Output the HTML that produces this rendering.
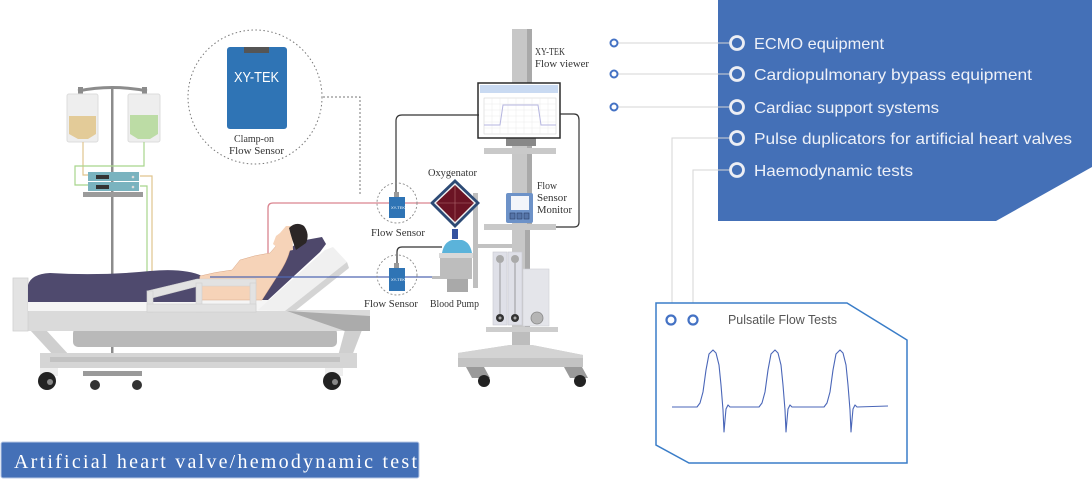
<!DOCTYPE html>
<html><head><meta charset="utf-8"><style>
html,body{margin:0;padding:0;background:#fff;}
svg{display:block;}
.m{font-family:"Liberation Serif","Noto Serif CJK SC",serif;fill:#333;font-size:10.5px;}
.p{font-family:"Liberation Sans","Noto Sans CJK SC",sans-serif;}
</style></head><body>
<svg width="1092" height="479" viewBox="0 0 1092 479" xmlns="http://www.w3.org/2000/svg">
<rect width="1092" height="479" fill="#fff"/>

<!-- Right blue panel -->
<polygon points="718,0 1092,0 1092,167 996,221 718,221" fill="#4470b7"/>
<g stroke="#d5d5d5" stroke-width="1" fill="none">
  <line x1="618" y1="43" x2="730" y2="43"/>
  <line x1="618" y1="74" x2="730" y2="74"/>
  <line x1="618" y1="107" x2="730" y2="107"/>
  <path d="M730,138 H672 V315"/>
  <path d="M730,170 H693 V315"/>
</g>
<g fill="#fff" stroke="#4472c4" stroke-width="2">
  <circle cx="614" cy="43" r="3.5"/>
  <circle cx="614" cy="74" r="3.5"/>
  <circle cx="614" cy="107" r="3.5"/>
</g>
<g fill="#4470b7" stroke="#eceef4" stroke-width="2.8">
  <circle cx="737" cy="43" r="6.5"/>
  <circle cx="737" cy="74" r="6.5"/>
  <circle cx="737" cy="107" r="6.5"/>
  <circle cx="737" cy="138" r="6.5"/>
  <circle cx="737" cy="170" r="6.5"/>
</g>
<g class="p" fill="#eef1f8" font-size="16">
  <text x="754" y="49" textLength="130" lengthAdjust="spacingAndGlyphs">ECMO equipment</text>
  <text x="754" y="80" textLength="278" lengthAdjust="spacingAndGlyphs">Cardiopulmonary bypass equipment</text>
  <text x="754" y="113" textLength="185" lengthAdjust="spacingAndGlyphs">Cardiac support systems</text>
  <text x="754" y="144" textLength="318" lengthAdjust="spacingAndGlyphs">Pulse duplicators for artificial heart valves</text>
  <text x="754" y="176" textLength="159" lengthAdjust="spacingAndGlyphs">Haemodynamic tests</text>
</g>

<!-- Pulsatile box -->
<polygon points="656,303 847,303 907,340 907,463 689,463 656,445" fill="#fff" stroke="#3a7dc8" stroke-width="1.5"/>
<g fill="#fff" stroke="#4472c4" stroke-width="2.2">
  <circle cx="671" cy="320" r="4.5"/>
  <circle cx="693" cy="320" r="4.5"/>
</g>
<text class="p" x="728" y="324" font-size="12.5" fill="#555" textLength="109" lengthAdjust="spacingAndGlyphs">Pulsatile Flow Tests</text>
<path fill="none" stroke="#4a66b8" stroke-width="1.1" stroke-linejoin="round" d="M672,407 L697,407 L700,403 L703,392 L706,370 L709,354 L713,350 L716,353 L719,365 L721,385 L723,410 L724,432 L725,420 L726,409 L728,405 L730,407 L759,407 L762,403 L765,392 L768,370 L771,354 L775,350 L778,353 L781,365 L783,385 L785,410 L786,432 L787,420 L788,409 L790,405 L792,407 L824,407 L827,403 L830,392 L833,370 L836,354 L840,350 L843,353 L846,365 L848,385 L850,410 L851,432 L852,420 L853,409 L855,405 L857,407 L888,406"/>

<!-- IV stand -->
<rect x="111" y="86" width="2.5" height="270" fill="#8c8c8c"/>
<path d="M78,91 Q112,84 147,91" stroke="#8c8c8c" stroke-width="3" fill="none"/>
<rect x="78" y="87" width="5" height="8" fill="#8c8c8c"/>
<rect x="142" y="87" width="5" height="8" fill="#8c8c8c"/>
<rect x="67" y="94" width="31" height="48" rx="2" fill="#eeeeee" stroke="#dcdcdc"/>
<path d="M69,116 H96 V134 L88,139 H78 L69,134 Z" fill="#e3cb98"/>
<rect x="128" y="94" width="32" height="48" rx="2" fill="#eeeeee" stroke="#dcdcdc"/>
<path d="M130,115 H158 V134 L150,139 H138 L130,134 Z" fill="#bcdca5"/>
<g fill="none" stroke-width="1.2">
  <path d="M83,142 V175 H88" stroke="#e0c48e"/>
  <path d="M140,176 H152 V272" stroke="#e0c48e"/>
  <path d="M144,142 V166 H75 V185 H88" stroke="#a8d58c"/>
  <path d="M140,186 H147 V272" stroke="#a8d58c"/>
</g>
<rect x="88" y="172" width="51" height="9" fill="#7ab3bf"/>
<rect x="88" y="182" width="51" height="9" fill="#7ab3bf"/>
<rect x="96" y="175" width="13" height="4" fill="#333"/>
<rect x="96" y="185" width="13" height="4" fill="#333"/>
<circle cx="133" cy="177" r="1.3" fill="#ddd"/>
<circle cx="133" cy="187" r="1.3" fill="#ddd"/>
<rect x="83" y="192" width="60" height="5" fill="#9b9b9b"/>

<!-- Clamp-on sensor callout -->
<circle cx="255" cy="97" r="67" fill="none" stroke="#777" stroke-width="1" stroke-dasharray="1.5,2.5"/>
<path d="M323,97 H360 V194" fill="none" stroke="#777" stroke-width="1" stroke-dasharray="2,2"/>
<rect x="227" y="47" width="60" height="82" rx="3" fill="#2f74b5"/>
<rect x="244" y="47" width="25" height="6" fill="#555"/>
<text class="p" x="234" y="82" font-size="15" fill="#fff" textLength="45" lengthAdjust="spacingAndGlyphs">XY-TEK</text>
<text class="m" x="234" y="142" textLength="40" lengthAdjust="spacingAndGlyphs">Clamp-on</text>
<text class="m" x="229" y="154" textLength="55" lengthAdjust="spacingAndGlyphs">Flow Sensor</text>

<!-- Bed -->
<rect x="73" y="328" width="264" height="19" rx="5" fill="#b9b9b9"/>
<polygon points="30,330 46,330 70,356 54,356" fill="#cfcfcf"/>
<polygon points="345,330 362,330 352,356 338,356" fill="#cfcfcf"/>
<rect x="40" y="353" width="317" height="15" fill="#d5d5d5"/>
<rect x="50" y="357" width="290" height="5" fill="#c2c2c2"/>
<rect x="40" y="368" width="18" height="8" fill="#eee"/>
<circle cx="47" cy="381" r="9" fill="#222"/><circle cx="50" cy="382" r="3" fill="#888"/>
<rect x="325" y="368" width="18" height="8" fill="#eee"/>
<circle cx="332" cy="381" r="9" fill="#222"/><circle cx="335" cy="382" r="3" fill="#888"/>
<rect x="83" y="371" width="59" height="5" fill="#9a9a9a"/>
<circle cx="95" cy="385" r="5" fill="#333"/><circle cx="137" cy="385" r="5" fill="#333"/>
<rect x="13" y="310" width="357" height="21" fill="#dadada"/>
<polygon points="287,311 370,316 370,331 345,331" fill="#ababab"/>
<rect x="13" y="278" width="15" height="53" fill="#e3e3e3" stroke="#d0d0d0" stroke-width="0.8"/>
<rect x="28" y="300" width="262" height="11" fill="#f5f5f5"/>
<polygon points="258,310 325,250 333,247 347,262 285,311" fill="#f0f0f0"/>
<polygon points="285,311 347,262 349,268 295,311" fill="#d4d4d4"/>

<!-- pink line (behind patient) -->
<path d="M268,262 V208 Q268,203 273,203 H430" fill="none" stroke="#d9848f" stroke-width="1.3"/>

<!-- Patient -->
<polygon points="253,300 288,250 300,241 322,237 326,244 320,252 268,300" fill="#4e486b"/>
<path d="M28,302 L28,285 Q31,274 50,273 Q100,276 150,271 Q185,268 202,276 L202,302 Z" fill="#4f4a6e"/>
<path d="M197,300 L200,276 Q215,272 232,270 L240,260 Q255,255 270,253 L276,246 L290,250 Q287,262 278,275 L262,300 Z" fill="#f6d3b8" stroke="#d9a98a" stroke-width="0.5"/>
<path d="M273,244 L276,236 L280,233 L286,226 L292,226 L293,250 L283,252 Z" fill="#f6d3b8"/>
<path d="M289,228 Q296,221 304,226 Q310,234 306,243 L296,250 Q292,240 289,228 Z" fill="#2b2626"/>

<!-- side rail -->
<g fill="#e2e2e2" stroke="#cfcfcf" stroke-width="0.6">
  <polygon points="147,291 197,279 256,279 256,286 199,286 152,298"/>
  <rect x="147" y="291" width="6" height="21"/>
  <rect x="196" y="283" width="6" height="29"/>
  <rect x="250" y="283" width="6" height="29"/>
  <rect x="147" y="304" width="109" height="8"/>
</g>

<!-- blue line -->
<line x1="210" y1="277" x2="440" y2="277" stroke="#5068b2" stroke-width="1.3"/>

<!-- Cart -->
<rect x="512" y="29" width="20" height="120" fill="#c7c7c7"/>
<rect x="527" y="29" width="5" height="120" fill="#a9a9a9"/>
<rect x="506" y="137" width="30" height="9" fill="#888"/>
<rect x="484" y="148" width="72" height="6" fill="#c9c9c9"/>
<rect x="512" y="154" width="20" height="70" fill="#c7c7c7"/>
<rect x="527" y="154" width="5" height="70" fill="#a9a9a9"/>
<rect x="484" y="224" width="72" height="6" fill="#c9c9c9"/>
<rect x="512" y="230" width="18" height="107" fill="#c7c7c7"/>
<rect x="525" y="230" width="5" height="107" fill="#a9a9a9"/>
<rect x="473" y="193" width="5" height="95" fill="#bfbfbf"/>
<rect x="478" y="244" width="34" height="4" fill="#c2c2c2"/>
<rect x="493" y="252" width="14" height="73" fill="#dfe0e8" stroke="#c8c8d0" stroke-width="0.6"/>
<rect x="508" y="252" width="14" height="73" fill="#dfe0e8" stroke="#c8c8d0" stroke-width="0.6"/>
<line x1="500" y1="263" x2="500" y2="314" stroke="#888" stroke-width="0.8"/>
<line x1="515" y1="263" x2="515" y2="314" stroke="#888" stroke-width="0.8"/>
<circle cx="500" cy="259" r="4" fill="#aaa"/><circle cx="515" cy="259" r="4" fill="#aaa"/>
<circle cx="500" cy="318" r="4" fill="#333"/><circle cx="500" cy="318" r="1.5" fill="#aaa"/>
<circle cx="515" cy="318" r="4" fill="#333"/><circle cx="515" cy="318" r="1.5" fill="#aaa"/>
<rect x="523" y="269" width="26" height="57" fill="#e4e5ea" stroke="#cfd0d6" stroke-width="0.6"/>
<circle cx="537" cy="318" r="6" fill="#b5b5b5" stroke="#888" stroke-width="0.8"/>
<rect x="486" y="327" width="72" height="5" fill="#cdcdcd"/>
<rect x="512" y="332" width="18" height="14" fill="#bdbdbd"/>
<polygon points="458,353 510,345 532,345 583,355 583,367 458,367" fill="#c3c3c3"/>
<polygon points="458,353 510,345 532,345 583,355 583,358 458,358" fill="#d3d3d3"/>
<polygon points="466,367 484,367 490,378 472,378" fill="#9a9a9a"/>
<circle cx="484" cy="381" r="6" fill="#222"/>
<polygon points="564,367 582,367 588,378 570,378" fill="#9a9a9a"/>
<circle cx="580" cy="381" r="6" fill="#222"/>

<!-- Monitor -->
<rect x="478" y="83" width="82" height="55" fill="#fff" stroke="#2b2b2b" stroke-width="1.5"/>
<rect x="480" y="85" width="78" height="8" fill="#c9daf2"/>
<rect x="484" y="98" width="72" height="36" fill="#fff" stroke="#ccc" stroke-width="0.5"/>
<g stroke="#e6e6e6" stroke-width="0.4">
  <line x1="484" y1="104" x2="556" y2="104"/><line x1="484" y1="110" x2="556" y2="110"/>
  <line x1="484" y1="116" x2="556" y2="116"/><line x1="484" y1="122" x2="556" y2="122"/>
  <line x1="484" y1="128" x2="556" y2="128"/>
  <line x1="492" y1="98" x2="492" y2="134"/><line x1="500" y1="98" x2="500" y2="134"/>
  <line x1="508" y1="98" x2="508" y2="134"/><line x1="516" y1="98" x2="516" y2="134"/>
  <line x1="524" y1="98" x2="524" y2="134"/><line x1="532" y1="98" x2="532" y2="134"/>
  <line x1="540" y1="98" x2="540" y2="134"/><line x1="548" y1="98" x2="548" y2="134"/>
</g>
<path d="M484,125 H500 L503,105 H538 L541,125 H556" fill="none" stroke="#b5b5e0" stroke-width="1"/>

<!-- Flow sensor monitor -->
<rect x="506" y="193" width="27" height="30" rx="2" fill="#6d92c8"/>
<rect x="511" y="196" width="18" height="14" fill="#f3f5fa"/>
<rect x="510" y="213" width="5" height="6" fill="#5574a8" stroke="#2b3e66" stroke-width="0.6"/>
<rect x="517" y="213" width="5" height="6" fill="#5574a8" stroke="#2b3e66" stroke-width="0.6"/>
<rect x="524" y="213" width="5" height="6" fill="#5574a8" stroke="#2b3e66" stroke-width="0.6"/>

<!-- wires -->
<g fill="none" stroke="#333" stroke-width="1.2">
  <path d="M479,115 H402 Q396,115 396,121 V192"/>
  <path d="M560,114 H574 Q579,114 579,120 V222 Q579,227 574,227 H556"/>
  <path d="M397,263 V252 Q397,247 402,247 H442"/>
</g>

<!-- Flow sensors -->
<circle cx="397" cy="203" r="20" fill="none" stroke="#888" stroke-width="0.9" stroke-dasharray="2,2"/>
<rect x="394" y="192" width="5" height="5" fill="#999"/>
<rect x="389" y="197" width="16" height="21" fill="#2f74b5"/>
<text class="p" x="391" y="209" font-size="4" fill="#fff">XY-TEK</text>
<circle cx="397" cy="275" r="20" fill="none" stroke="#888" stroke-width="0.9" stroke-dasharray="2,2"/>
<rect x="394" y="263" width="5" height="5" fill="#999"/>
<rect x="389" y="268" width="16" height="23" fill="#2f74b5"/>
<text class="p" x="391" y="281" font-size="4" fill="#fff">XY-TEK</text>

<!-- Oxygenator -->
<polygon points="455,179 480,203 455,228 430,203" fill="#2c4a75"/>
<polygon points="455,183 476,203 455,224 434,203" fill="#f2f2f2"/>
<polygon points="455,185 474,203 455,222 436,203" fill="#6b1424"/>
<line x1="455" y1="185" x2="455" y2="222" stroke="#b06a70" stroke-width="0.6"/>
<line x1="436" y1="203" x2="474" y2="203" stroke="#b06a70" stroke-width="0.6"/>
<rect x="452" y="229" width="6" height="10" fill="#3553a0"/>

<!-- Blood pump -->
<path d="M442,253 Q444,242 452,240 H462 Q470,242 472,253 Z" fill="#5bb3da"/>
<rect x="432" y="276" width="10" height="3" fill="#bdbdbd"/>
<rect x="440" y="257" width="32" height="22" fill="#bdbdbd"/>
<rect x="439" y="253" width="34" height="5" fill="#d8d8d8"/>
<rect x="447" y="279" width="21" height="13" fill="#a9a9a9"/>

<!-- labels -->
<text class="m" x="535" y="55" textLength="30" lengthAdjust="spacingAndGlyphs">XY-TEK</text>
<text class="m" x="535" y="67" textLength="54" lengthAdjust="spacingAndGlyphs">Flow viewer</text>
<text class="m" x="428" y="176" textLength="49" lengthAdjust="spacingAndGlyphs">Oxygenator</text>
<text class="m" x="371" y="236" textLength="54" lengthAdjust="spacingAndGlyphs">Flow Sensor</text>
<text class="m" x="537" y="189" textLength="20" lengthAdjust="spacingAndGlyphs">Flow</text>
<text class="m" x="537" y="201" textLength="30" lengthAdjust="spacingAndGlyphs">Sensor</text>
<text class="m" x="537" y="213" textLength="35" lengthAdjust="spacingAndGlyphs">Monitor</text>
<text class="m" x="364" y="307" textLength="54" lengthAdjust="spacingAndGlyphs">Flow Sensor</text>
<text class="m" x="430" y="307" textLength="49" lengthAdjust="spacingAndGlyphs">Blood Pump</text>

<!-- Bottom label -->
<rect x="1" y="442" width="418" height="36" rx="2" fill="#4470b7" stroke="#b8c8e6" stroke-width="1"/>
<text x="14" y="468" font-family="'Liberation Serif','Noto Serif CJK SC',serif" font-size="20" fill="#fff" textLength="403" lengthAdjust="spacing">Artificial heart valve/hemodynamic test</text>
</svg>
</body></html>
